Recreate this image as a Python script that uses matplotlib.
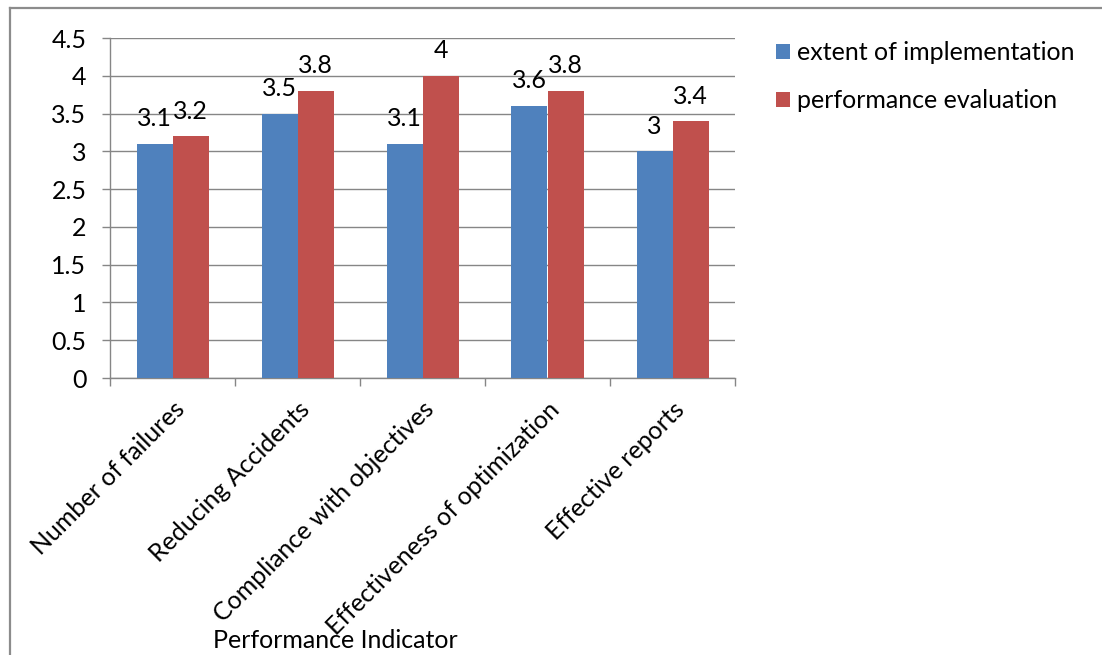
import matplotlib
matplotlib.use("Agg")
import matplotlib.pyplot as plt
import numpy as np
from matplotlib.lines import Line2D
from matplotlib.patches import Patch

categories = ["Number of failures", "Reducing Accidents", "Compliance with objectives",
              "Effectiveness of optimization", "Effective reports"]
implementation = [3.1, 3.5, 3.1, 3.6, 3.0]
evaluation = [3.2, 3.8, 4.0, 3.8, 3.4]
series_names = ["extent of implementation", "performance evaluation"]
yticks = [0, 0.5, 1, 1.5, 2, 2.5, 3, 3.5, 4, 4.5]
ytick_labels = ["0", "0.5", "1", "1.5", "2", "2.5", "3", "3.5", "4", "4.5"]

BLUE = "#4F81BD"
RED = "#C0504D"
GRID = "#868686"
FONT = "Lato"
FS = 18

plt.rcParams["font.family"] = [FONT, "DejaVu Sans"]

W, H = 1102, 655
fig = plt.figure(figsize=(W / 100, H / 100), dpi=100)
fig.patch.set_facecolor("white")

ax = fig.add_axes([110 / W, 1 - 378 / H, (735 - 110) / W, (378 - 38) / H])

x = np.arange(len(categories))
bw = 0.288
b1 = ax.bar(x - bw / 2, implementation, width=bw, color=BLUE, zorder=3)
b2 = ax.bar(x + bw / 2, evaluation, width=bw, color=RED, zorder=3)

for bars, vals in ((b1, implementation), (b2, evaluation)):
    for r, v in zip(bars, vals):
        ax.annotate(f"{v:g}", (r.get_x() + r.get_width() / 2, v),
                    xytext=(0, 18), textcoords="offset points",
                    ha="center", va="center", fontsize=FS, color="#000000")

ax.set_xlim(-0.5, len(categories) - 0.5)
ax.set_ylim(0, 4.5)

ax.set_yticks(yticks)
ax.set_yticklabels(ytick_labels, fontsize=FS, color="#000000")
ax.yaxis.grid(True, color=GRID, linewidth=1.0, zorder=0)
ax.tick_params(axis="y", length=6, width=1.0, color=GRID, pad=11)

ax.set_xticks(np.arange(len(categories) + 1) - 0.5)
ax.set_xticklabels([])
ax.tick_params(axis="x", which="major", length=6, width=1.0, color=GRID)
ax.set_xticks(x, minor=True)
ax.set_xticklabels(categories, minor=True, rotation=45, ha="right",
                   rotation_mode="anchor", fontsize=FS, color="#000000")
ax.tick_params(axis="x", which="minor", length=0, pad=14)

for side in ("top", "right"):
    ax.spines[side].set_visible(False)
for side in ("left", "bottom"):
    ax.spines[side].set_color(GRID)
    ax.spines[side].set_linewidth(1.0)

fig.text(213 / W, 1 - 640 / H, "Performance Indicator", fontsize=FS,
         ha="left", va="center", color="#000000")

handles = [Patch(facecolor=BLUE), Patch(facecolor=RED)]
fig.legend(handles, series_names, loc="upper left",
           bbox_to_anchor=(766 / W, 1 - 31 / H), frameon=False,
           fontsize=FS, handlelength=0.55, handleheight=0.55,
           handletextpad=0.3, labelspacing=1.0, borderaxespad=0)

# outer frame on the left and top edges
fig.add_artist(Line2D([10 / W, 10 / W], [0, 1 - 8 / H], transform=fig.transFigure,
                      color="#8C8C8C", linewidth=1.6))
fig.add_artist(Line2D([10 / W, 1], [1 - 8 / H, 1 - 8 / H], transform=fig.transFigure,
                      color="#8C8C8C", linewidth=1.6))

fig.savefig("out.png", dpi=100)
